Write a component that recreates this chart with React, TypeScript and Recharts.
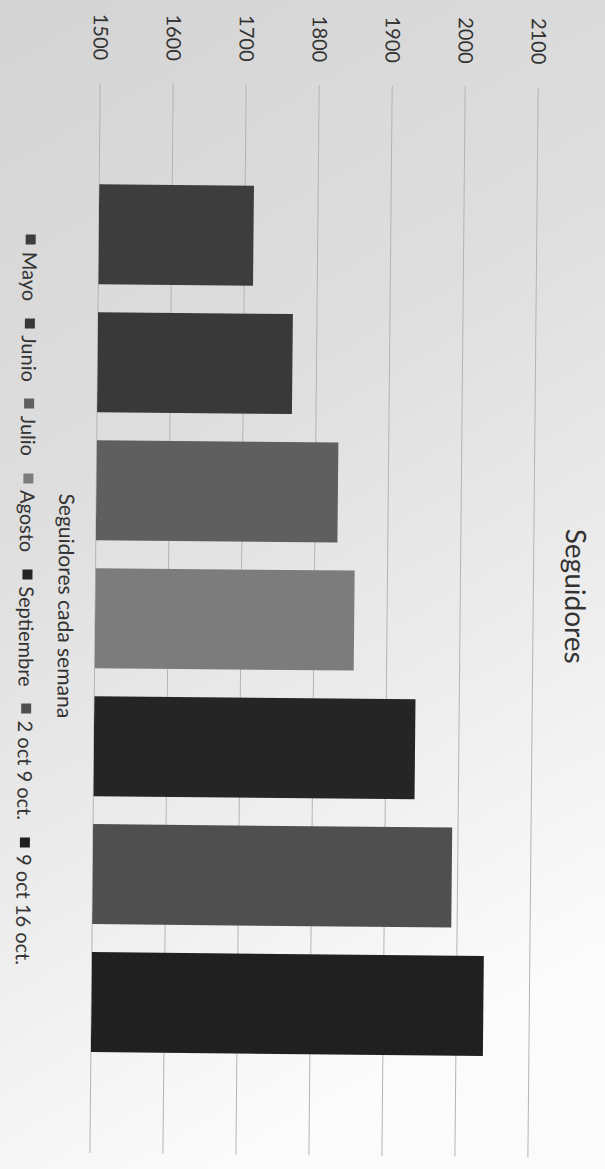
import { Bar, BarChart, CartesianGrid, Legend, XAxis, YAxis } from 'recharts';

// one category, seven series (one per period), as in the printed sheet
const categoryLabel = 'Seguidores cada semana';
const seriesNames = ['Mayo', 'Junio', 'Julio', 'Agosto', 'Septiembre', '2 oct 9 oct.', '9 oct 16 oct.'];
const seriesValues = [1712, 1767, 1831, 1855, 1940, 1992, 2037];
const seriesColors = ['#3d3d3d', '#393939', '#5f5f5f', '#7c7c7c', '#252525', '#4f4f4f', '#202020'];
const yTicks = [1500, 1600, 1700, 1800, 1900, 2000, 2100];

// keys without dots (recharts reads dotted keys as paths)
const seriesKeys = seriesNames.map((_, i) => `s${i}`);
const row: Record<string, string | number> = { name: categoryLabel };
seriesKeys.forEach((k, i) => {
  row[k] = seriesValues[i];
});
const data = [row];

// chart is drawn landscape, then turned a quarter (plus the scan's small skew)
const W = 1169;
const H = 605;
const FONT = 'Lato, "Open Sans", sans-serif';

// legend wrapper is kept 0x0 so the rotated bbox doesn't eat the plot area
function LegendRow() {
  return (
    <div
      style={{
        position: 'absolute',
        left: 0,
        top: 554,
        width: W - 12,
        height: 36,
        display: 'flex',
        justifyContent: 'center',
        alignItems: 'center',
        paddingLeft: 52,
        boxSizing: 'border-box',
        gap: 17,
        fontSize: 20,
        color: '#333',
        fontFamily: FONT
      }}
    >
      {seriesNames.map((n, i) => (
        <span key={n} style={{ display: 'flex', alignItems: 'center', whiteSpace: 'nowrap' }}>
          <span style={{ width: 10, height: 10, background: seriesColors[i], marginRight: 7, display: 'inline-block' }} />
          {n}
        </span>
      ))}
    </div>
  );
}

export default function App() {
  return (
    <div
      style={{
        position: 'fixed',
        left: 0,
        top: 0,
        width: 605,
        height: 1169,
        overflow: 'hidden',
        background: 'linear-gradient(150deg, #d4d4d4 0%, #dedede 35%, #ececec 60%, #fbfbfb 85%)'
      }}
    >
      <div
        style={{
          position: 'absolute',
          left: 0,
          top: 0,
          width: W,
          height: H,
          transformOrigin: '0 0',
          transform: 'translate(605px, 1px) rotate(90.55deg)',
          fontFamily: FONT
        }}
      >
        <BarChart
          width={W}
          height={H}
          data={data}
          barGap={28}
          margin={{ top: 66, right: 12, bottom: 51, left: 0 }}
        >
          <CartesianGrid vertical={false} stroke="#b4b4b4" />
          <XAxis
            dataKey="name"
            axisLine={false}
            tickLine={false}
            tickMargin={16}
            height={50}
            tick={{ fill: '#333', fontSize: 21, fontFamily: FONT, dx: -12 }}
          />
          <YAxis
            domain={[1500, 2100]}
            ticks={yTicks}
            allowDataOverflow
            axisLine={false}
            tickLine={false}
            width={87}
            tickMargin={17}
            tick={{ fill: '#333', fontSize: 20, fontFamily: FONT }}
          />
          <Legend
            verticalAlign="bottom"
            wrapperStyle={{ left: 0, top: 0, bottom: 'auto', width: 0, height: 0, overflow: 'visible' }}
            content={() => <LegendRow />}
          />
          {seriesKeys.map((k, i) => (
            <Bar
              key={k}
              dataKey={k}
              name={seriesNames[i]}
              fill={seriesColors[i]}
              barSize={100}
              isAnimationActive={false}
            />
          ))}
        </BarChart>
        <div
          style={{
            position: 'absolute',
            left: 0,
            top: 8,
            width: W,
            height: 30,
            lineHeight: '30px',
            paddingLeft: 22,
            boxSizing: 'border-box',
            textAlign: 'center',
            fontSize: 28,
            color: '#333'
          }}
        >
          Seguidores
        </div>
      </div>
    </div>
  );
}
